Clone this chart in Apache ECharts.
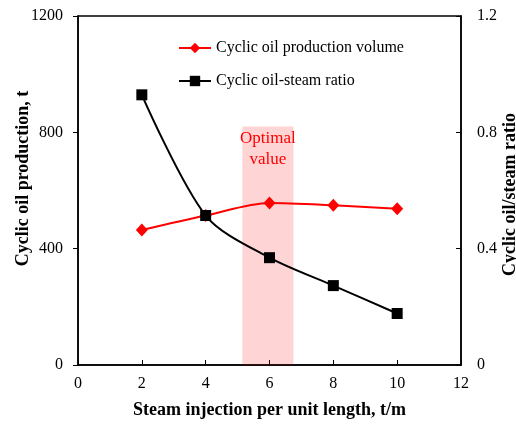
<!DOCTYPE html>
<html><head><meta charset="utf-8">
<script src="https://cdn.jsdelivr.net/npm/echarts@6/dist/echarts.min.js"></script>
<style>html,body{margin:0;padding:0;background:#fff}#c{width:516px;height:424px}</style>
</head><body><div id="c"></div>
<script>
const xValues = [2, 4, 6, 8, 10];
const oilProduction = [464, 514, 557, 549, 537];
const oilSteamRatio = [0.929, 0.514, 0.369, 0.273, 0.177];
const optimalRange = [5.15, 6.75];
const optimalTop = 820;
const F = "'Liberation Serif','Times New Roman',serif";

const chart = echarts.init(document.getElementById('c'), null, {renderer: 'canvas'});
chart.setOption({
  animation: false,
  backgroundColor: '#fff',
  grid: {left: 78, right: 55, top: 16, bottom: 59, show: true, borderColor: '#000', borderWidth: 1.5,
    backgroundColor: 'transparent', containLabel: false, outerBoundsMode: 'none'},
  legend: {
    orient: 'vertical', left: 173, top: 35, itemGap: 17, itemWidth: 32, itemHeight: 13,
    textStyle: {fontFamily: F, fontSize: 16, color: '#000'},
    data: ['Cyclic oil production volume', 'Cyclic oil-steam ratio']
  },
  xAxis: {
    type: 'value', min: 0, max: 12, interval: 2,
    name: 'Steam injection per unit length, t/m', nameLocation: 'middle', nameGap: 36, nameMoveOverlap: false,
    nameTextStyle: {fontFamily: F, fontSize: 18, fontWeight: 'bold', color: '#000'},
    axisLine: {lineStyle: {color: '#000', width: 1.5}},
    axisTick: {inside: true, length: 5, lineStyle: {color: '#000'}},
    axisLabel: {fontFamily: F, fontSize: 16, color: '#000', margin: 11},
    splitLine: {show: false}
  },
  yAxis: [{
    type: 'value', min: 0, max: 1200, interval: 400,
    name: 'Cyclic oil production, t', nameLocation: 'middle', nameGap: 46, nameMoveOverlap: false,
    nameTextStyle: {fontFamily: F, fontSize: 18, fontWeight: 'bold', color: '#000', padding: [0, 0, 0, 24]},
    axisLine: {show: true, lineStyle: {color: '#000', width: 1.5}},
    axisTick: {show: true, inside: false, length: 5, lineStyle: {color: '#000'}},
    axisLabel: {fontFamily: F, fontSize: 16, color: '#000', margin: 15, formatter: v => String(v)},
    splitLine: {show: false}
  }, {
    type: 'value', min: 0, max: 1.2, interval: 0.4, position: 'right',
    name: 'Cyclic oil/steam ratio', nameLocation: 'middle', nameGap: 40, nameRotate: 90, nameMoveOverlap: false,
    nameTextStyle: {fontFamily: F, fontSize: 18, fontWeight: 'bold', color: '#000', padding: [0, 8, 0, 0]},
    axisLine: {show: true, lineStyle: {color: '#000', width: 1.5}},
    axisTick: {show: true, inside: true, length: 5, lineStyle: {color: '#000'}},
    axisLabel: {fontFamily: F, fontSize: 16, color: '#000', margin: 16,
      formatter: v => (v === 0 ? '0' : v.toFixed(1))},
    splitLine: {show: false}
  }],
  series: [{
    name: 'Cyclic oil production volume', type: 'line', yAxisIndex: 0,
    data: xValues.map((x, i) => [x, oilProduction[i]]),
    smooth: 0.3, symbol: 'diamond', symbolSize: [12, 13],
    lineStyle: {color: '#ff0000', width: 2}, itemStyle: {color: '#ff0000'},
    z: 3,
    markArea: {
      silent: true,
      itemStyle: {color: 'rgba(255,0,0,0.17)'},
      label: {show: true, position: 'insideTop', distance: 2, formatter: 'Optimal\nvalue',
        fontFamily: F, fontSize: 17, color: '#ff0000', lineHeight: 21},
      data: [[{xAxis: optimalRange[0], yAxis: 0}, {xAxis: optimalRange[1], yAxis: optimalTop}]]
    }
  }, {
    name: 'Cyclic oil-steam ratio', type: 'line', yAxisIndex: 1,
    data: xValues.map((x, i) => [x, oilSteamRatio[i]]),
    smooth: 0.3, symbol: 'rect', symbolSize: 11,
    lineStyle: {color: '#000', width: 2}, itemStyle: {color: '#000'},
    z: 4
  }]
});
</script></body></html>
